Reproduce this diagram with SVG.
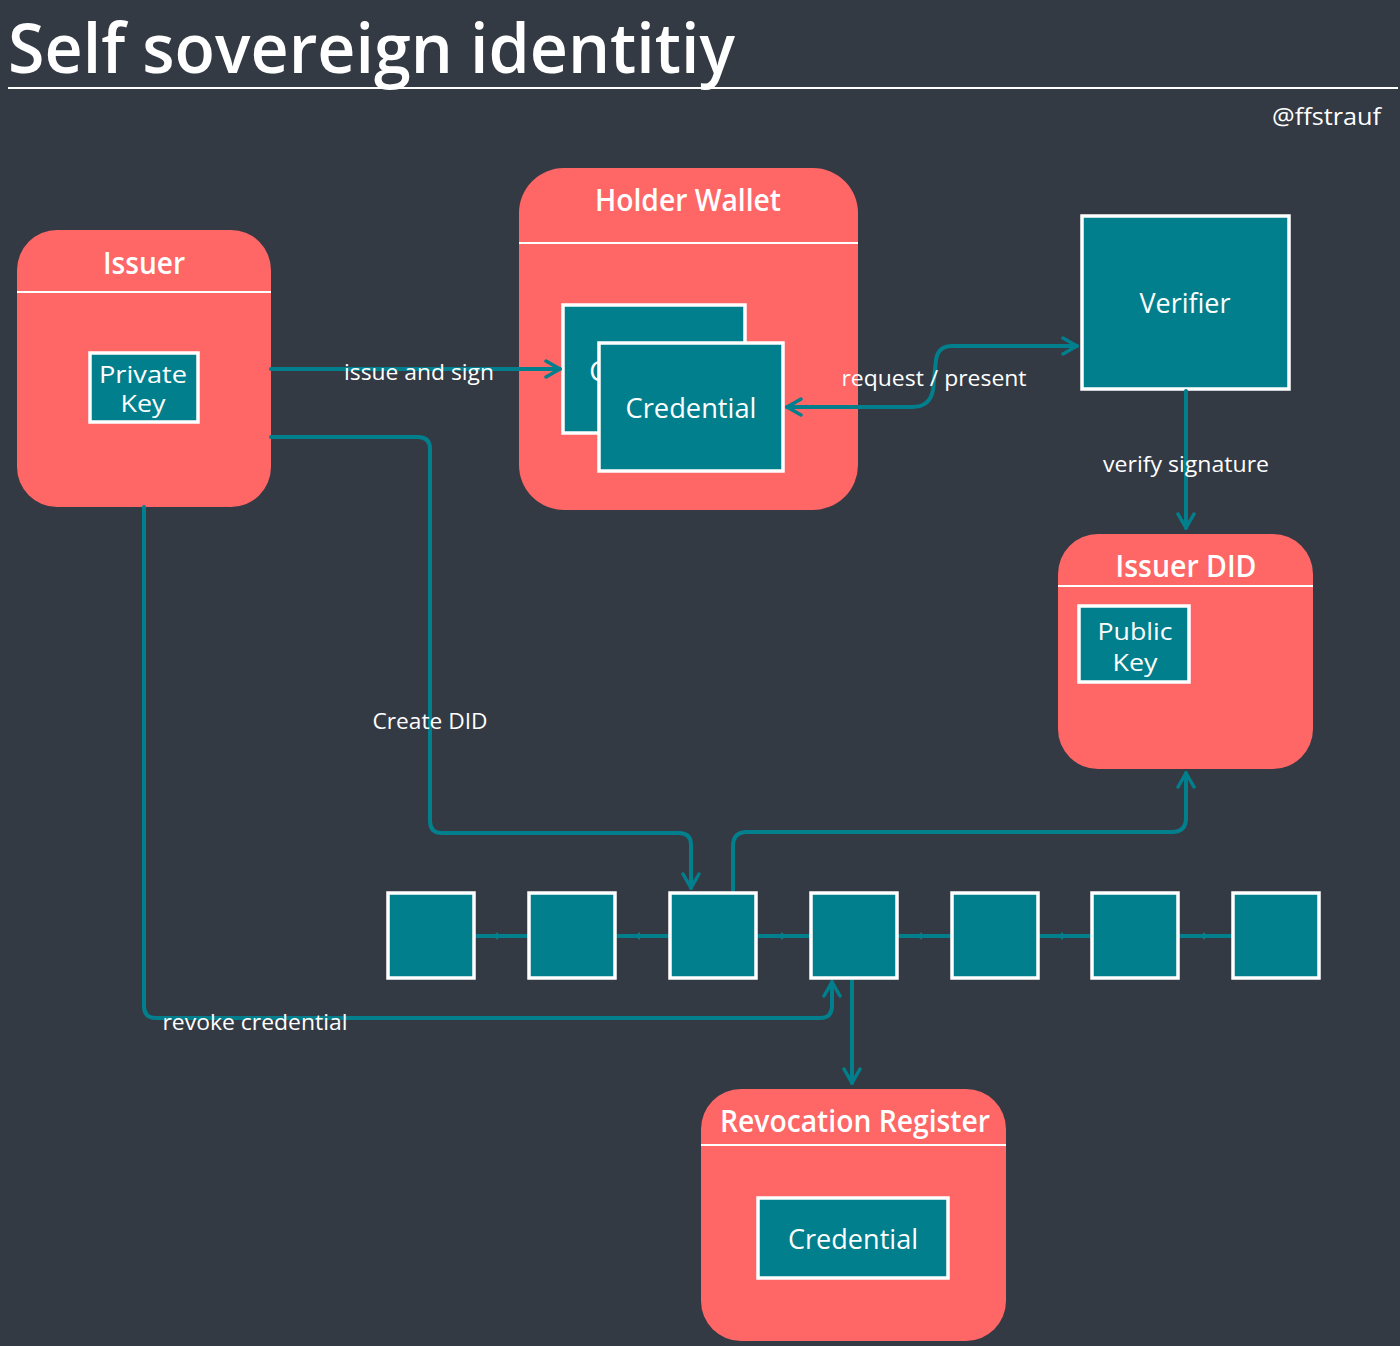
<svg xmlns="http://www.w3.org/2000/svg" width="1400" height="1346" viewBox="0 0 1400 1346">
<style>
.bg{fill:#343a44}
.pool{fill:#ff6666}
.hdr{stroke:#ffffff;stroke-width:2;fill:none}
.box{fill:#017f8d;stroke:#ffffff;stroke-width:3.5}
.blk{fill:#017f8d;stroke:#ffffff;stroke-width:3.5}
.t{font-family:"Open Sans","Liberation Sans",sans-serif;fill:#ffffff}
.title{font-size:68px;font-weight:600}
.h{font-size:31px;font-weight:600;text-anchor:middle}
.n{font-size:27px;text-anchor:middle}
.n2{font-size:23px;text-anchor:middle}
.l{font-size:22px;text-anchor:middle}
.c{fill:none;stroke:#017f8d;stroke-width:4;stroke-linejoin:round;stroke-linecap:round}
.cs{fill:none;stroke:#017f8d;stroke-width:4}
</style>
<defs>
<marker id="arr" viewBox="0 0 20 20" refX="17" refY="10" markerWidth="20" markerHeight="20" markerUnits="userSpaceOnUse" orient="auto-start-reverse">
<path d="M3,2 L17,10 L3,18 M9,10 L17,10" fill="none" stroke="#017f8d" stroke-width="3.5" stroke-linecap="round" stroke-linejoin="round"/>
</marker>
</defs>
<rect class="bg" x="0" y="0" width="1400" height="1346"/>

<g id="title">
<text class="t title" x="8" y="73" textLength="727" lengthAdjust="spacingAndGlyphs">Self sovereign identitiy</text>
<line x1="8" y1="88" x2="1398" y2="88" stroke="#ffffff" stroke-width="2"/>
<text class="t" x="1381" y="125" font-size="24" text-anchor="end" textLength="109" lengthAdjust="spacingAndGlyphs">@ffstrauf</text>
</g>

<g id="issuer">
<rect class="pool" x="17" y="230" width="254" height="277" rx="40"/>
<line class="hdr" x1="17" y1="292" x2="271" y2="292"/>
<text class="t h" x="144" y="274" textLength="82" lengthAdjust="spacingAndGlyphs">Issuer</text>
<g id="private-key">
<rect class="box" x="90" y="353" width="108" height="69"/>
<text class="t n2" x="143" y="383" textLength="88" lengthAdjust="spacingAndGlyphs">Private</text>
<text class="t n2" x="143" y="412" textLength="45" lengthAdjust="spacingAndGlyphs">Key</text>
</g>
</g>

<g id="holder-wallet">
<rect class="pool" x="519" y="168" width="339" height="342" rx="45"/>
<line class="hdr" x1="519" y1="243" x2="858" y2="243"/>
<text class="t h" x="688" y="211" textLength="186" lengthAdjust="spacingAndGlyphs">Holder Wallet</text>
<g id="credential-back">
<rect class="box" x="563" y="305" width="182" height="128"/>
<text class="t n" x="654" y="381">Credential</text>
</g>
<g id="credential-front">
<rect class="box" x="599" y="343" width="184" height="128"/>
<text class="t n" x="691" y="418" textLength="131" lengthAdjust="spacingAndGlyphs">Credential</text>
</g>
</g>

<g id="verifier">
<rect class="box" x="1082" y="216" width="207" height="173"/>
<text class="t n" x="1185" y="313" textLength="91" lengthAdjust="spacingAndGlyphs">Verifier</text>
</g>

<g id="issuer-did">
<rect class="pool" x="1058" y="534" width="255" height="235" rx="40"/>
<line class="hdr" x1="1058" y1="586" x2="1313" y2="586"/>
<text class="t h" x="1186" y="577" textLength="141" lengthAdjust="spacingAndGlyphs">Issuer DID</text>
<g id="public-key">
<rect class="box" x="1079" y="606" width="110" height="76"/>
<text class="t n2" x="1135" y="640" textLength="75" lengthAdjust="spacingAndGlyphs">Public</text>
<text class="t n2" x="1135" y="671" textLength="45" lengthAdjust="spacingAndGlyphs">Key</text>
</g>
</g>

<g id="revocation-register">
<rect class="pool" x="701" y="1089" width="305" height="252" rx="40"/>
<line class="hdr" x1="701" y1="1145" x2="1006" y2="1145"/>
<text class="t h" x="855" y="1132" textLength="270" lengthAdjust="spacingAndGlyphs">Revocation Register</text>
<g id="revoked-credential">
<rect class="box" x="758" y="1198" width="190" height="80"/>
<text class="t n" x="853" y="1249" textLength="130" lengthAdjust="spacingAndGlyphs">Credential</text>
</g>
</g>

<g id="connectors">
<path class="cs" d="M475,936 H528"/>
<path class="cs" d="M616,936 H669"/>
<path class="cs" d="M757,936 H810"/>
<path class="cs" d="M898,936 H951"/>
<path class="cs" d="M1039,936 H1091"/>
<path class="cs" d="M1179,936 H1232"/>
<path d="M498,932 L492,936 L498,940 Z M640,932 L634,936 L640,940 Z M781,932 L787,936 L781,940 Z M922,932 L916,936 L922,940 Z M1063,932 L1057,936 L1063,940 Z M1203,932 L1209,936 L1203,940 Z" fill="#017f8d"/>
<path class="c" d="M271,369 H560" marker-end="url(#arr)"/>
<path class="c" d="M271,437 H418 Q430,437 430,449 V821 Q430,833 442,833 H679 Q691,833 691,845 V888" marker-end="url(#arr)"/>
<path class="c" d="M787,407 H912 Q930,407 933,390 L936,360 Q938,346 952,346 H1077" marker-start="url(#arr)" marker-end="url(#arr)"/>
<path class="c" d="M1186,391 V528" marker-end="url(#arr)"/>
<path class="c" d="M733,890 V846 Q733,832 747,832 H1172 Q1186,832 1186,818 V773" marker-end="url(#arr)"/>
<path class="c" d="M144,507 V1006 Q144,1018 156,1018 H820 Q832,1018 832,1006 V982" marker-end="url(#arr)"/>
<path class="c" d="M852,980 V1083" marker-end="url(#arr)"/>
<text class="t l" x="419" y="380" textLength="150" lengthAdjust="spacingAndGlyphs">issue and sign</text>
<text class="t l" x="430" y="729" textLength="115" lengthAdjust="spacingAndGlyphs">Create DID</text>
<text class="t l" x="934" y="386" textLength="185" lengthAdjust="spacingAndGlyphs">request / present</text>
<text class="t l" x="1186" y="472" textLength="166" lengthAdjust="spacingAndGlyphs">verify signature</text>
<text class="t l" x="255" y="1030" textLength="185" lengthAdjust="spacingAndGlyphs">revoke credential</text>
</g>

<g id="chain">
<rect id="block1" class="blk" x="388" y="893" width="86" height="85"/>
<rect id="block2" class="blk" x="529" y="893" width="86" height="85"/>
<rect id="block3" class="blk" x="670" y="893" width="86" height="85"/>
<rect id="block4" class="blk" x="811" y="893" width="86" height="85"/>
<rect id="block5" class="blk" x="952" y="893" width="86" height="85"/>
<rect id="block6" class="blk" x="1092" y="893" width="86" height="85"/>
<rect id="block7" class="blk" x="1233" y="893" width="86" height="85"/>
</g>
</svg>
